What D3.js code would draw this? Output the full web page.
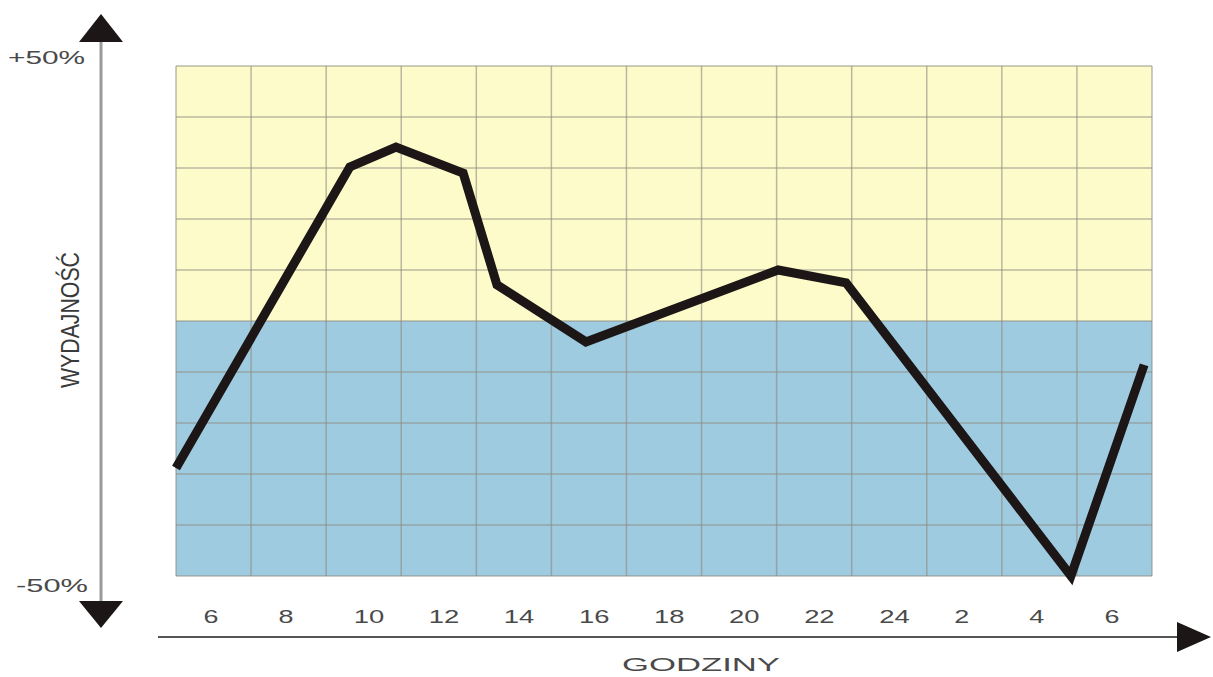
<!DOCTYPE html>
<html>
<head>
<meta charset="utf-8">
<script src="https://cdn.jsdelivr.net/npm/d3@7"></script>
<style>
  body { margin: 0; background: #fff; }
  svg { display: block; }
  .tick-label { font-family: "Liberation Sans", Arial, sans-serif; font-size: 19px; fill: #4a4a4a; }
</style>
</head>
<body>
<div id="chart"></div>
<script>
// Wydajność w ciągu doby

// hours (5..31 = 5:00 day one .. 7:00 next day)
const hours = [5, 9.63, 10.86, 12.65, 13.55, 15.92, 21.04, 22.85, 28.84, 30.79];
const wydajnosc = [-28.8, 30.2, 34.1, 29.0, 7.1, -4.1, 10.0, 7.5, -50.0, -8.6];

const tickHours = [6, 8, 10, 12, 14, 16, 18, 20, 22, 24, 26, 28, 30];
const tickLabels = ['6', '8', '10', '12', '14', '16', '18', '20', '22', '24', '2', '4', '6'];
const gridHours = [5, 7, 9, 11, 13, 15, 17, 19, 21, 23, 25, 27, 29, 31];
const gridValues = [50, 40, 30, 20, 10, 0, -10, -20, -30, -40, -50];

const width = 1213, height = 677;

const svg = d3.select('#chart')
    .append('svg')
    .attr('width', width)
    .attr('height', height);

const x = d3.scaleLinear().domain([5, 31]).range([176, 1152]);
const y = d3.scaleLinear().domain([-50, 50]).range([576, 66]);

// background bands
svg.append('rect')
    .attr('x', x(5)).attr('y', y(50))
    .attr('width', x(31) - x(5)).attr('height', y(0) - y(50))
    .attr('fill', '#fefbcb');
svg.append('rect')
    .attr('x', x(5)).attr('y', y(0))
    .attr('width', x(31) - x(5)).attr('height', y(-50) - y(0))
    .attr('fill', '#9ecbdf');

// grid
const grid = svg.append('g').attr('stroke', '#8d8a80').attr('stroke-opacity', 0.6).attr('stroke-width', 1.5);
grid.selectAll('line.v')
    .data(gridHours)
    .enter()
    .append('line')
    .attr('x1', d => x(d)).attr('x2', d => x(d))
    .attr('y1', y(50)).attr('y2', y(-50));
grid.selectAll('line.h')
    .data(gridValues)
    .enter()
    .append('line')
    .attr('y1', d => y(d)).attr('y2', d => y(d))
    .attr('x1', x(5)).attr('x2', x(31));

// the line
const line = d3.line()
    .x((d, i) => x(hours[i]))
    .y(d => y(d));
svg.append('path')
    .datum(wydajnosc)
    .attr('d', line)
    .attr('fill', 'none')
    .attr('stroke', '#1c1616')
    .attr('stroke-width', 9)
    .attr('stroke-linejoin', 'miter');

// y axis with arrows
svg.append('line')
    .attr('x1', 101).attr('x2', 101)
    .attr('y1', 40).attr('y2', 602)
    .attr('stroke', '#9a9a9a').attr('stroke-width', 3);
svg.append('path')
    .attr('d', 'M101,14 L123,42 L79,42 Z')
    .attr('fill', '#1c1616');
svg.append('path')
    .attr('d', 'M101,628 L123,601 L79,601 Z')
    .attr('fill', '#1c1616');

svg.append('text')
    .attr('x', 8).attr('y', y(50) - 2)
    .attr('class', 'tick-label')
    .attr('textLength', 77)
    .attr('lengthAdjust', 'spacingAndGlyphs')
    .text('+50%');
svg.append('text')
    .attr('x', 16).attr('y', y(-50) + 16)
    .attr('class', 'tick-label')
    .attr('textLength', 72)
    .attr('lengthAdjust', 'spacingAndGlyphs')
    .text('-50%');

svg.append('text')
    .attr('transform', 'translate(79,320) rotate(-90)')
    .attr('text-anchor', 'middle')
    .attr('textLength', 136)
    .attr('lengthAdjust', 'spacingAndGlyphs')
    .style('font-family', '"Liberation Sans Narrow", "Liberation Sans", Arial, sans-serif')
    .style('font-size', '26px')
    .style('fill', '#3a3a3a')
    .text('WYDAJNOŚĆ');

// x axis
svg.append('line')
    .attr('x1', 158).attr('x2', 1185)
    .attr('y1', 637).attr('y2', 637)
    .attr('stroke', '#555').attr('stroke-width', 2);
svg.append('path')
    .attr('d', 'M1211,637 L1177,622 L1177,652 Z')
    .attr('fill', '#1c1616');

const colHalf = (x(7) - x(5)) / 2;
const xAxis = d3.axisBottom(x)
    .tickValues(tickHours)
    .tickFormat((d, i) => tickLabels[i])
    .tickSize(0)
    .tickPadding(0);
const gx = svg.append('g')
    .attr('transform', 'translate(0,609)')
    .call(xAxis);
gx.select('.domain').remove();
gx.selectAll('text')
    .attr('class', 'tick-label')
    .attr('fill', null)
    .attr('text-anchor', 'start')
    .attr('dx', -colHalf + 27)
    .attr('textLength', function() { return this.textContent.length * 15 + (this.textContent.length - 1) * 0.5; })
    .attr('lengthAdjust', 'spacingAndGlyphs');

svg.append('text')
    .attr('x', 701).attr('y', 671)
    .attr('text-anchor', 'middle')
    .attr('class', 'tick-label')
    .attr('textLength', 158)
    .attr('lengthAdjust', 'spacingAndGlyphs')
    .text('GODZINY');
</script>
</body>
</html>
